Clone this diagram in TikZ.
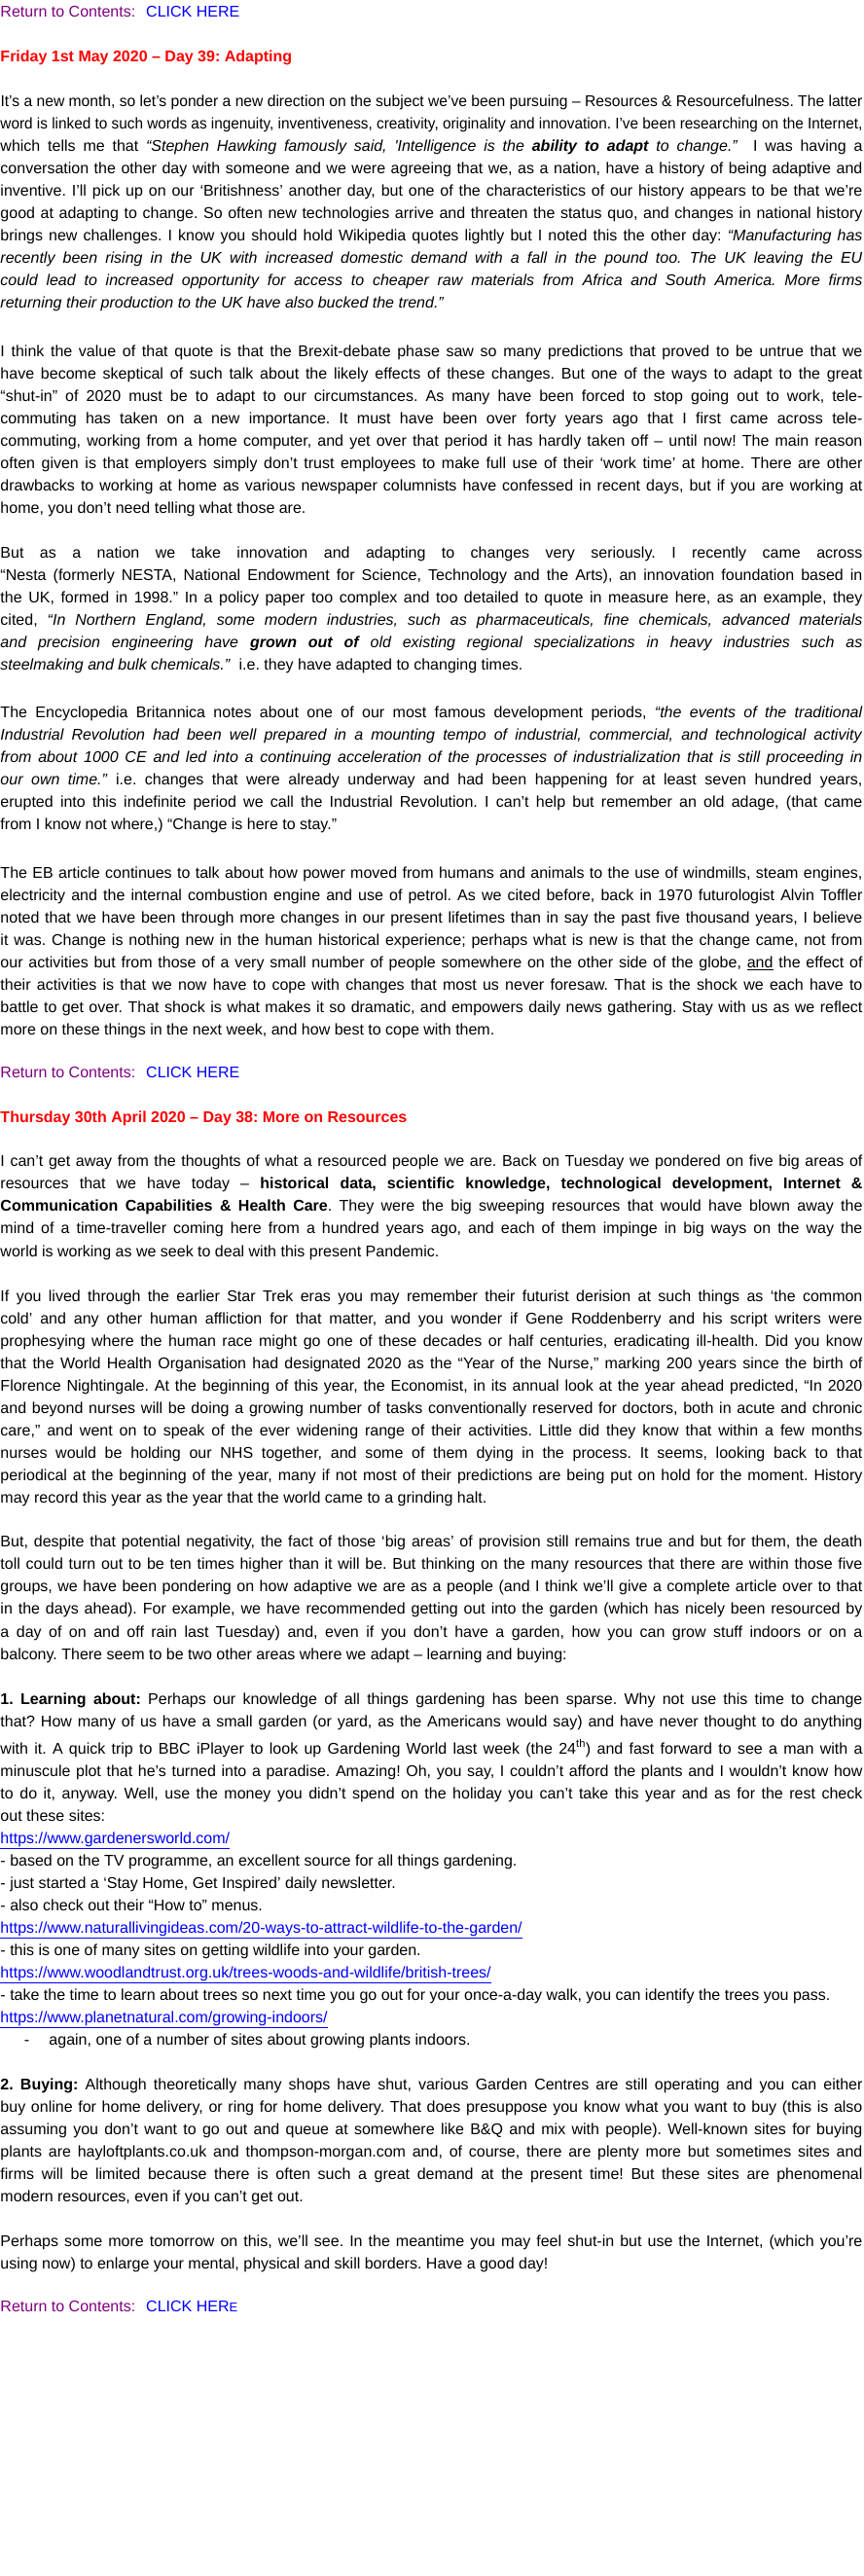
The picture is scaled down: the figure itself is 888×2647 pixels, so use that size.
\documentclass[tikz,border=0pt]{standalone}
\usepackage{fontspec}
\setmainfont{Liberation Sans}[Ligatures=TeXOff]
\setlength\parindent{0pt}
\definecolor{linkpurple}{RGB}{128,0,128}
\definecolor{linkblue}{RGB}{0,0,255}
\definecolor{headred}{RGB}{255,0,0}
\newlength\jlen
\newcommand\J[1]{\settowidth\jlen{#1}\ifdim\jlen>886pt\pgfmathsetmacro\jr{886/\jlen}\scalebox{\jr}[1]{#1}\else\makebox[886pt][s]{#1}\fi\\}
\newcommand\st{\spaceskip=0pt\xspaceskip=0pt\frenchspacing\vrule height 18pt depth 0pt width 0pt}
\newcommand\lnk[1]{{\color{linkblue}\underline{#1}}}
\tikzset{
  para/.style={anchor=north west, inner sep=0pt, outer sep=0pt, text width=886pt, align=left, font=\fontsize{16}{23.05}\selectfont},
  headline/.style={para, text=headred, font=\fontsize{16}{23.05}\selectfont\bfseries}
}
\begin{document}
\begin{tikzpicture}[x=1pt,y=-1pt]
\path[use as bounding box, fill=white] (0,0) rectangle (888,2647);

\node[para] (ret1) at (0.5,-0.5) {\st{\color{linkpurple}Return to Contents:}\hspace{11pt}{\color{linkblue}CLICK HERE}};

\node[headline] (head1) at (0.5,45.5) {\st Friday 1st May 2020 – Day 39: Adapting};

\node[para] (p1) at (0.5,91.5) {\st
\J{It’s a new month, so let’s ponder a new direction on the subject we’ve been pursuing – Resources \& Resourcefulness. The latter}
\J{word is linked to such words as ingenuity, inventiveness, creativity, originality and innovation. I’ve been researching on the Internet,}
\J{which tells me that \textit{“Stephen Hawking famously said, 'Intelligence is the \textbf{ability to adapt} to change.”} \ I was having a}
\J{conversation the other day with someone and we were agreeing that we, as a nation, have a history of being adaptive and}
\J{inventive. I’ll pick up on our ‘Britishness’ another day, but one of the characteristics of our history appears to be that we’re}
\J{good at adapting to change. So often new technologies arrive and threaten the status quo, and changes in national history}
\J{brings new challenges. I know you should hold Wikipedia quotes lightly but I noted this the other day: \textit{“Manufacturing has}}
\J{\textit{recently been rising in the UK with increased domestic demand with a fall in the pound too. The UK leaving the EU}}
\J{\textit{could lead to increased opportunity for access to cheaper raw materials from Africa and South America. More firms}}
\textit{returning their production to the UK have also bucked the trend.”}};

\node[para] (p2) at (0.5,348.2) {\st
\J{I think the value of that quote is that the Brexit-debate phase saw so many predictions that proved to be untrue that we}
\J{have become skeptical of such talk about the likely effects of these changes. But one of the ways to adapt to the great}
\J{“shut-in” of 2020 must be to adapt to our circumstances. As many have been forced to stop going out to work, tele-}
\J{commuting has taken on a new importance. It must have been over forty years ago that I first came across tele-}
\J{commuting, working from a home computer, and yet over that period it has hardly taken off – until now! The main reason}
\J{often given is that employers simply don’t trust employees to make full use of their ‘work time’ at home. There are other}
\J{drawbacks to working at home as various newspaper columnists have confessed in recent days, but if you are working at}
home, you don’t need telling what those are.};

\node[para] (p3) at (0.5,555.2) {\st
\J{But as a nation we take innovation and adapting to changes very seriously. I recently came across}
\J{“Nesta (formerly NESTA, National Endowment for Science, Technology and the Arts), an innovation foundation based in}
\J{the UK, formed in 1998.” In a policy paper too complex and too detailed to quote in measure here, as an example, they}
\J{cited, \textit{“In Northern England, some modern industries, such as pharmaceuticals, fine chemicals, advanced materials}}
\J{\textit{and precision engineering have \textbf{grown out of} old existing regional specializations in heavy industries such as}}
\textit{steelmaking and bulk chemicals.”} \ i.e. they have adapted to changing times.};

\node[para] (p4) at (0.5,719.2) {\st
\J{The Encyclopedia Britannica notes about one of our most famous development periods, \textit{“the events of the traditional}}
\J{\textit{Industrial Revolution had been well prepared in a mounting tempo of industrial, commercial, and technological activity}}
\J{\textit{from about 1000 CE and led into a continuing acceleration of the processes of industrialization that is still proceeding in}}
\J{\textit{our own time.”} i.e. changes that were already underway and had been happening for at least seven hundred years,}
\J{erupted into this indefinite period we call the Industrial Revolution. I can’t help but remember an old adage, (that came}
from I know not where,) “Change is here to stay.”};

\node[para] (p5) at (0.5,884.2) {\st
\J{The EB article continues to talk about how power moved from humans and animals to the use of windmills, steam engines,}
\J{electricity and the internal combustion engine and use of petrol. As we cited before, back in 1970 futurologist Alvin Toffler}
\J{noted that we have been through more changes in our present lifetimes than in say the past five thousand years, I believe}
\J{it was. Change is nothing new in the human historical experience; perhaps what is new is that the change came, not from}
\J{our activities but from those of a very small number of people somewhere on the other side of the globe, \underline{and} the effect of}
\J{their activities is that we now have to cope with changes that most us never foresaw. That is the shock we each have to}
\J{battle to get over. That shock is what makes it so dramatic, and empowers daily news gathering. Stay with us as we reflect}
more on these things in the next week, and how best to cope with them.};

\node[para] (ret2) at (0.5,1089.2) {\st{\color{linkpurple}Return to Contents:}\hspace{11pt}{\color{linkblue}CLICK HERE}};

\node[headline] (head2) at (0.5,1135.2) {\st Thursday 30th April 2020 – Day 38: More on Resources};

\node[para] (p6) at (0.5,1180.8) {\st
\J{I can’t get away from the thoughts of what a resourced people we are. Back on Tuesday we pondered on five big areas of}
\J{resources that we have today – \textbf{historical data, scientific knowledge, technological development, Internet \&}}
\J{\textbf{Communication Capabilities \& Health Care}. They were the big sweeping resources that would have blown away the}
\J{mind of a time-traveller coming here from a hundred years ago, and each of them impinge in big ways on the way the}
world is working as we seek to deal with this present Pandemic.};

\node[para] (p7) at (0.5,1319.2) {\st
\J{If you lived through the earlier Star Trek eras you may remember their futurist derision at such things as ‘the common}
\J{cold’ and any other human affliction for that matter, and you wonder if Gene Roddenberry and his script writers were}
\J{prophesying where the human race might go one of these decades or half centuries, eradicating ill-health. Did you know}
\J{that the World Health Organisation had designated 2020 as the “Year of the Nurse,” marking 200 years since the birth of}
\J{Florence Nightingale. At the beginning of this year, the Economist, in its annual look at the year ahead predicted, “In 2020}
\J{and beyond nurses will be doing a growing number of tasks conventionally reserved for doctors, both in acute and chronic}
\J{care,” and went on to speak of the ever widening range of their activities. Little did they know that within a few months}
\J{nurses would be holding our NHS together, and some of them dying in the process. It seems, looking back to that}
\J{periodical at the beginning of the year, many if not most of their predictions are being put on hold for the moment. History}
may record this year as the year that the world came to a grinding halt.};

\node[para] (p8) at (0.5,1571.8) {\st
\J{But, despite that potential negativity, the fact of those ‘big areas’ of provision still remains true and but for them, the death}
\J{toll could turn out to be ten times higher than it will be. But thinking on the many resources that there are within those five}
\J{groups, we have been pondering on how adaptive we are as a people (and I think we’ll give a complete article over to that}
\J{in the days ahead). For example, we have recommended getting out into the garden (which has nicely been resourced by}
\J{a day of on and off rain last Tuesday) and, even if you don’t have a garden, how you can grow stuff indoors or on a}
balcony. There seem to be two other areas where we adapt – learning and buying:};

\node[para] (p9a) at (0.5,1733.2) {\st
\J{\textbf{1. Learning about:} Perhaps our knowledge of all things gardening has been sparse. Why not use this time to change}
\J{that? How many of us have a small garden (or yard, as the Americans would say) and have never thought to do anything}};

\node[para] (p9b) at (0.5,1784.2) {\st
\J{with it. A quick trip to BBC iPlayer to look up Gardening World last week (the 24\textsuperscript{th}) and fast forward to see a man with a}
\J{minuscule plot that he’s turned into a paradise. Amazing! Oh, you say, I couldn’t afford the plants and I wouldn’t know how}
\J{to do it, anyway. Well, use the money you didn’t spend on the holiday you can’t take this year and as for the rest check}
out these sites:\\
\lnk{https://www.gardenersworld.com/}\\
- based on the TV programme, an excellent source for all things gardening.\\
- just started a ‘Stay Home, Get Inspired’ daily newsletter.\\
- also check out their “How to” menus.\\
\lnk{https://www.naturallivingideas.com/20-ways-to-attract-wildlife-to-the-garden/}\\
- this is one of many sites on getting wildlife into your garden.\\
\lnk{https://www.woodlandtrust.org.uk/trees-woods-and-wildlife/british-trees/}\\
- take the time to learn about trees so next time you go out for your once-a-day walk, you can identify the trees you pass.\\
\lnk{https://www.planetnatural.com/growing-indoors/}\\
\hspace*{24.5pt}\makebox[25.5pt][l]{-}again, one of a number of sites about growing plants indoors.};

\node[para] (p10) at (0.5,2129.2) {\st
\J{\textbf{2. Buying:} Although theoretically many shops have shut, various Garden Centres are still operating and you can either}
\J{buy online for home delivery, or ring for home delivery. That does presuppose you know what you want to buy (this is also}
\J{assuming you don’t want to go out and queue at somewhere like B\&Q and mix with people). Well-known sites for buying}
\J{plants are hayloftplants.co.uk and thompson-morgan.com and, of course, there are plenty more but sometimes sites and}
\J{firms will be limited because there is often such a great demand at the present time! But these sites are phenomenal}
modern resources, even if you can’t get out.};

\node[para] (p11) at (0.5,2290.2) {\st
\J{Perhaps some more tomorrow on this, we’ll see. In the meantime you may feel shut-in but use the Internet, (which you’re}
using now) to enlarge your mental, physical and skill borders. Have a good day!};

\node[para] (ret3) at (0.5,2357.5) {\st{\color{linkpurple}Return to Contents:}\hspace{11pt}{\color{linkblue}CLICK HER{\fontsize{13}{15}\selectfont E}}};
\end{tikzpicture}
\end{document}
